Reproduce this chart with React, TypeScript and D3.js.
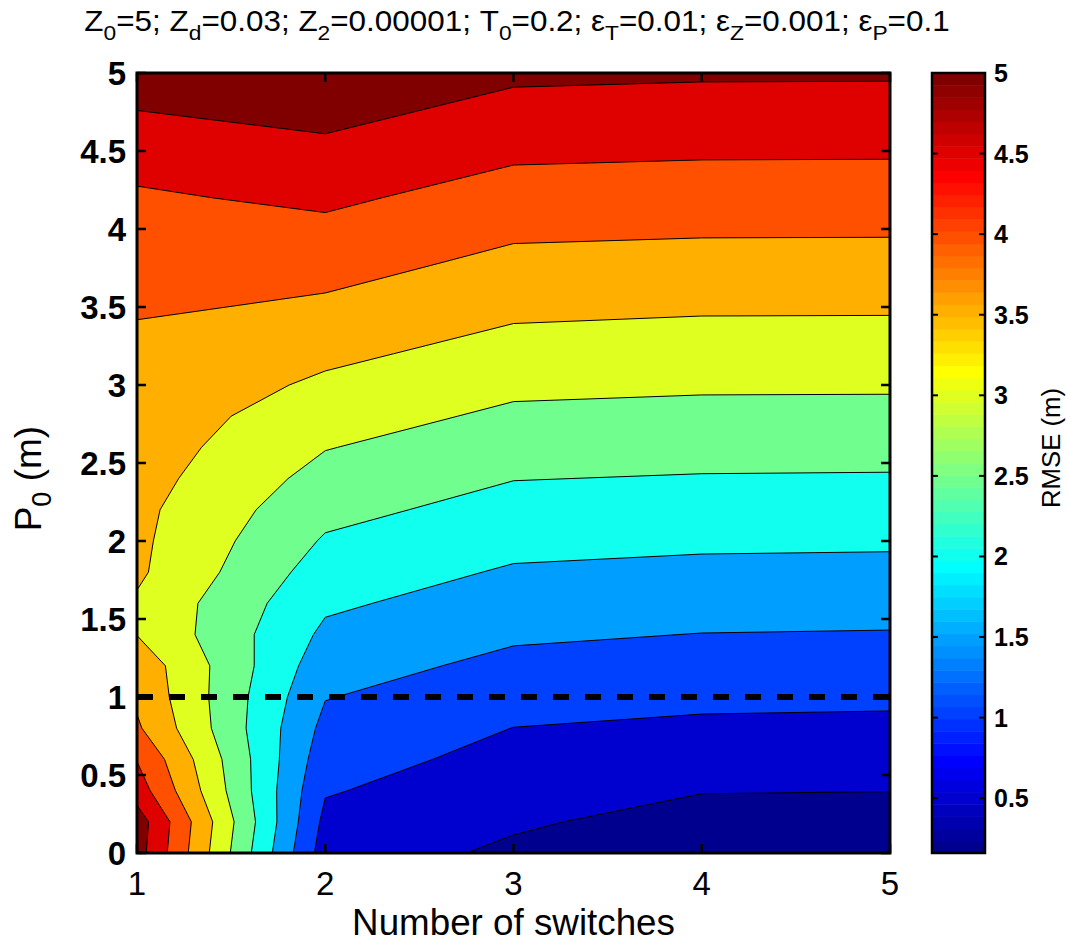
import { useEffect, useRef } from 'react';
import * as d3 from 'd3';

// grid of the run: number of switches (columns) and P0 in metres (rows)
const switches = [1, 2, 3, 4, 5];
const p0Values = [
  0, 0.2, 0.4, 0.6, 0.8, 1.0, 1.2, 1.4, 1.6, 1.8, 2.0, 2.2, 2.4,
  2.6, 2.8, 3.0, 3.2, 3.4, 3.6, 3.8, 4.0, 4.2, 4.4, 4.6, 4.8, 5.0,
];

// RMSE (m), one value per P0 row, for each number of switches
const rmse1Switch = [
  5.22, 5.27, 4.76, 4.48, 4.07, 3.91, 3.82, 3.49, 3.44, 3.58, 3.6, 3.62, 3.69,
  3.75, 3.78, 3.88, 3.94, 3.99, 4.1, 4.2, 4.3, 4.44, 4.6, 4.8, 5.05, 5.25,
];
const rmse2Switches = [
  0.74, 0.87, 1.04, 1.2, 1.36, 1.52, 1.7, 1.9, 2.08, 2.26, 2.45, 2.64, 2.83,
  3.02, 3.22, 3.41, 3.61, 3.81, 4.01, 4.21, 4.4, 4.59, 4.79, 4.99, 5.19, 5.38,
];
const rmse3Switches = [
  0.42, 0.558, 0.703, 0.849, 0.994, 1.185, 1.378, 1.569, 1.759, 1.948, 2.136, 2.324, 2.513,
  2.71, 2.907, 3.106, 3.306, 3.506, 3.7, 3.895, 4.092, 4.291, 4.49, 4.69, 4.891, 5.091,
];
const rmse4Switches = [
  0.18, 0.34, 0.518, 0.716, 0.912, 1.106, 1.298, 1.49, 1.688, 1.886, 2.082, 2.276, 2.469,
  2.667, 2.865, 3.063, 3.26, 3.458, 3.657, 3.857, 4.057, 4.257, 4.457, 4.657, 4.857, 5.057,
];
const rmse5Switches = [
  0.2, 0.35, 0.505, 0.696, 0.892, 1.087, 1.279, 1.471, 1.67, 1.87, 2.068, 2.264, 2.459,
  2.659, 2.86, 3.059, 3.256, 3.454, 3.653, 3.853, 4.053, 4.253, 4.453, 4.653, 4.853, 5.053,
];

const contourLevels = [0.5, 1, 1.5, 2, 2.5, 3, 3.5, 4, 4.5, 5];
const colorLimits = [0.16, 5];
const referenceP0 = 1;

const xTicks = [1, 2, 3, 4, 5];
const yTicks = [0, 0.5, 1, 1.5, 2, 2.5, 3, 3.5, 4, 4.5, 5];
const colorbarTicks = [0.5, 1, 1.5, 2, 2.5, 3, 3.5, 4, 4.5, 5];

// title: symbol, subscript, value
const titleSymbols = ['Z', 'Z', 'Z', 'T', 'ε', 'ε', 'ε'];
const titleSubscripts = ['0', 'd', '2', '0', 'T', 'Z', 'P'];
const titleValues = ['5', '0.03', '0.00001', '0.2', '0.01', '0.001', '0.1'];

const FONT = '"Liberation Sans", Arial, Helvetica, sans-serif';
const W = 1068;
const H = 943;

// MATLAB style jet colormap with 64 entries
const jet = (k: number) => {
  const c = (v: number) => Math.round(255 * Math.max(0, Math.min(1, v)));
  const r = c(Math.min((k - 23) / 16, (71 - k) / 16));
  const g = c(Math.min((k - 7) / 16, (55 - k) / 16));
  const b = c(Math.min((k + 9) / 16, (39 - k) / 16));
  return `rgb(${r},${g},${b})`;
};

const colorIndex = (v: number) => {
  const t = (v - colorLimits[0]) / (colorLimits[1] - colorLimits[0]);
  return Math.max(0, Math.min(63, Math.floor(t * 64)));
};

export default function App() {
  const svgRef = useRef<SVGSVGElement | null>(null);

  useEffect(() => {
    const svg = d3.select(svgRef.current);
    svg.selectAll('*').remove();

    const plot = { left: 137, right: 890, top: 73, bottom: 853 };
    const bar = { left: 932, right: 985 };

    const x = d3.scaleLinear().domain([1, 5]).range([plot.left, plot.right]);
    const y = d3.scaleLinear().domain([0, 5]).range([plot.bottom, plot.top]);

    // grid -> data coordinates (d3.contours puts value i at i + 0.5)
    const gx = d3.scaleLinear()
      .domain([0.5, switches.length - 0.5])
      .range([switches[0], switches[switches.length - 1]]);
    const gy = d3.scaleLinear()
      .domain([0.5, p0Values.length - 0.5])
      .range([p0Values[0], p0Values[p0Values.length - 1]]);

    const columns = [rmse1Switch, rmse2Switches, rmse3Switches, rmse4Switches, rmse5Switches];
    const grid: number[] = [];
    p0Values.forEach((_, j) => switches.forEach((__, i) => grid.push(columns[i][j])));

    const bands = d3.contours()
      .size([switches.length, p0Values.length])
      .thresholds(contourLevels)(grid);

    const path = d3.geoPath(d3.geoTransform({
      point(px: number, py: number) {
        // @ts-ignore
        this.stream.point(x(gx(px)), y(gy(py)));
      },
    }));

    svg.append('defs')
      .append('clipPath')
      .attr('id', 'plot-clip')
      .append('rect')
      .attr('x', plot.left)
      .attr('y', plot.top)
      .attr('width', plot.right - plot.left)
      .attr('height', plot.bottom - plot.top);

    const area = svg.append('g').attr('clip-path', 'url(#plot-clip)');

    // lowest band: colour of the minimum
    area.append('rect')
      .attr('x', plot.left)
      .attr('y', plot.top)
      .attr('width', plot.right - plot.left)
      .attr('height', plot.bottom - plot.top)
      .attr('fill', jet(colorIndex(d3.min(grid) as number)));

    area.selectAll('path.band')
      .data(bands)
      .join('path')
      .attr('class', 'band')
      .attr('d', (d: any) => path(d))
      .attr('fill', (d: any) => jet(colorIndex(d.value)))
      .attr('fill-rule', 'evenodd')
      .attr('stroke', '#000')
      .attr('stroke-width', 1);

    // dashed reference line
    area.append('line')
      .attr('x1', x(1))
      .attr('x2', x(5))
      .attr('y1', y(referenceP0))
      .attr('y2', y(referenceP0))
      .attr('stroke', '#000')
      .attr('stroke-width', 6)
      .attr('stroke-dasharray', '16,16');

    // axes box with inner ticks
    const axes = svg.append('g');
    const tickLen = 9;
    yTicks.forEach((v) => {
      axes.append('line').attr('x1', plot.left).attr('x2', plot.left + tickLen)
        .attr('y1', y(v)).attr('y2', y(v)).attr('stroke', '#000').attr('stroke-width', 2.5);
      axes.append('line').attr('x1', plot.right).attr('x2', plot.right - tickLen)
        .attr('y1', y(v)).attr('y2', y(v)).attr('stroke', '#000').attr('stroke-width', 2.5);
    });
    xTicks.forEach((v) => {
      axes.append('line').attr('x1', x(v)).attr('x2', x(v))
        .attr('y1', plot.bottom).attr('y2', plot.bottom - tickLen).attr('stroke', '#000').attr('stroke-width', 2.5);
      axes.append('line').attr('x1', x(v)).attr('x2', x(v))
        .attr('y1', plot.top).attr('y2', plot.top + tickLen).attr('stroke', '#000').attr('stroke-width', 2.5);
    });
    axes.append('rect')
      .attr('x', plot.left)
      .attr('y', plot.top)
      .attr('width', plot.right - plot.left)
      .attr('height', plot.bottom - plot.top)
      .attr('fill', 'none')
      .attr('stroke', '#000')
      .attr('stroke-width', 3);

    // tick labels
    axes.selectAll('text.ytick')
      .data(yTicks)
      .join('text')
      .attr('class', 'ytick')
      .attr('x', 126)
      .attr('y', (d) => y(d))
      .attr('dy', '0.36em')
      .attr('text-anchor', 'end')
      .attr('font-family', FONT)
      .attr('font-weight', 'bold')
      .attr('font-size', 33)
      .text((d) => `${d}`);

    axes.selectAll('text.xtick')
      .data(xTicks)
      .join('text')
      .attr('class', 'xtick')
      .attr('x', (d) => x(d))
      .attr('y', 895)
      .attr('text-anchor', 'middle')
      .attr('font-family', FONT)
      .attr('font-size', 33)
      .text((d) => `${d}`);

    const fitTo = (node: SVGTextElement | null, target: number) => {
      if (!node) return 1;
      const w = node.getBBox().width;
      return w > 0 ? target / w : 1;
    };

    // x label
    const xLabel = svg.append('text')
      .attr('text-anchor', 'middle')
      .attr('font-family', FONT)
      .attr('font-size', 37)
      .text('Number of switches');
    xLabel.attr('transform', `translate(${(plot.left + plot.right) / 2},935) scale(${fitTo(xLabel.node(), 323)},1)`);

    // y label P0 (m)
    const yLabel = svg.append('text')
      .attr('text-anchor', 'middle')
      .attr('font-family', FONT)
      .attr('font-size', 37)
      .style('white-space', 'pre');
    yLabel.append('tspan').text('P');
    yLabel.append('tspan').attr('baseline-shift', -10).attr('font-size', 27).text('0');
    yLabel.append('tspan').text(' (m)');
    yLabel.attr('transform', `translate(41,${y(2.4)}) rotate(-90)`);

    // title
    const title = svg.append('text')
      .attr('text-anchor', 'middle')
      .attr('font-family', FONT)
      .attr('font-size', 29)
      .style('white-space', 'pre');
    titleSymbols.forEach((s, i) => {
      title.append('tspan').text(s);
      title.append('tspan').attr('baseline-shift', -9).attr('font-size', 21).text(titleSubscripts[i]);
      const tail = i < titleSymbols.length - 1 ? '; ' : '';
      title.append('tspan').text(`=${titleValues[i]}${tail}`);
    });
    title.attr('transform', `translate(517,31) scale(${fitTo(title.node(), 865)},1)`);

    // colorbar
    const cy = d3.scaleLinear().domain(colorLimits).range([plot.bottom, plot.top]);
    const steps = d3.range(64);
    const stepH = (plot.bottom - plot.top) / 64;
    svg.append('g')
      .selectAll('rect')
      .data(steps)
      .join('rect')
      .attr('x', bar.left)
      .attr('width', bar.right - bar.left)
      .attr('y', (k) => plot.bottom - (k + 1) * stepH)
      .attr('height', stepH + 0.5)
      .attr('fill', (k) => jet(k));

    const barAxis = svg.append('g');
    colorbarTicks.forEach((v) => {
      barAxis.append('line').attr('x1', bar.left).attr('x2', bar.left + 6)
        .attr('y1', cy(v)).attr('y2', cy(v)).attr('stroke', '#000').attr('stroke-width', 2);
      barAxis.append('line').attr('x1', bar.right).attr('x2', bar.right - 6)
        .attr('y1', cy(v)).attr('y2', cy(v)).attr('stroke', '#000').attr('stroke-width', 2);
    });
    barAxis.append('rect')
      .attr('x', bar.left)
      .attr('y', plot.top)
      .attr('width', bar.right - bar.left)
      .attr('height', plot.bottom - plot.top)
      .attr('fill', 'none')
      .attr('stroke', '#000')
      .attr('stroke-width', 2.5);
    barAxis.selectAll('text')
      .data(colorbarTicks)
      .join('text')
      .attr('x', 994)
      .attr('y', (d) => cy(d))
      .attr('dy', '0.36em')
      .attr('font-family', FONT)
      .attr('font-weight', 'bold')
      .attr('font-size', 25)
      .text((d) => `${d}`);

    const barLabel = svg.append('text')
      .attr('text-anchor', 'middle')
      .attr('font-family', FONT)
      .attr('font-size', 26)
      .text('RMSE (m)');
    barLabel.attr('transform', `translate(1060,448) rotate(-90) scale(${fitTo(barLabel.node(), 120)},1)`);
  }, []);

  return (
    <svg
      ref={svgRef}
      width={W}
      height={H}
      style={{ position: 'absolute', left: 0, top: 0, background: '#fff' }}
    />
  );
}
